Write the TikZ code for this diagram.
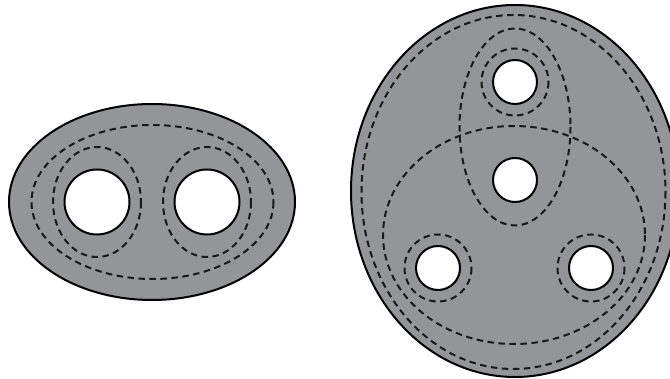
\documentclass[tikz,border=0pt]{standalone}
\definecolor{mat}{HTML}{939598}
\tikzset{
  edge/.style={line width=2pt, black},
  loop/.style={line width=2pt, black!90, dash pattern=on 6.5pt off 4.5pt},
}
\begin{document}
\begin{tikzpicture}[x=1pt, y=-1pt, line cap=butt, line join=round]
  \useasboundingbox (0,0) rectangle (670,379);
  \clip (0,0) rectangle (670,379);
  % 1. Mặt trái: elip có hai lỗ
  \fill[mat, even odd rule] (152,202) ellipse (143 and 98)
    (97,202) circle (32.5) (207,202) circle (32.5);
  \draw[edge] (152,202) ellipse (143 and 98);
  \foreach \hx in {97, 207} {
    \draw[edge] (\hx,202) circle (32.5);
    \draw[loop] (\hx,202) ellipse (44 and 55);
  }
  \draw[loop] (152.5,202) ellipse (121 and 77);

  % 2. Mặt phải: elip lớn có bốn lỗ
  \fill[mat, even odd rule] (515,191) ellipse (164 and 186)
    (515,82) circle (22) (515,180) circle (22)
    (438,268) circle (22) (591,268) circle (22);
  \draw[edge] (515,191) ellipse (164 and 186);
  \foreach \hx/\hy in {515/82, 515/180, 438/268, 591/268}
    \draw[edge] (\hx,\hy) circle (22);
  % các vòng nhỏ quanh lỗ
  \foreach \hx/\hy in {515/82, 438/268, 591/268}
    \draw[loop] (\hx,\hy) circle (33.5);
  % các đường cong lớn
  \draw[loop] (515,127) ellipse (55.5 and 98.5);
  \draw[loop] (514,235) ellipse (131 and 109);
  \draw[loop] (513.5,192) ellipse (152 and 177);
\end{tikzpicture}
\end{document}
